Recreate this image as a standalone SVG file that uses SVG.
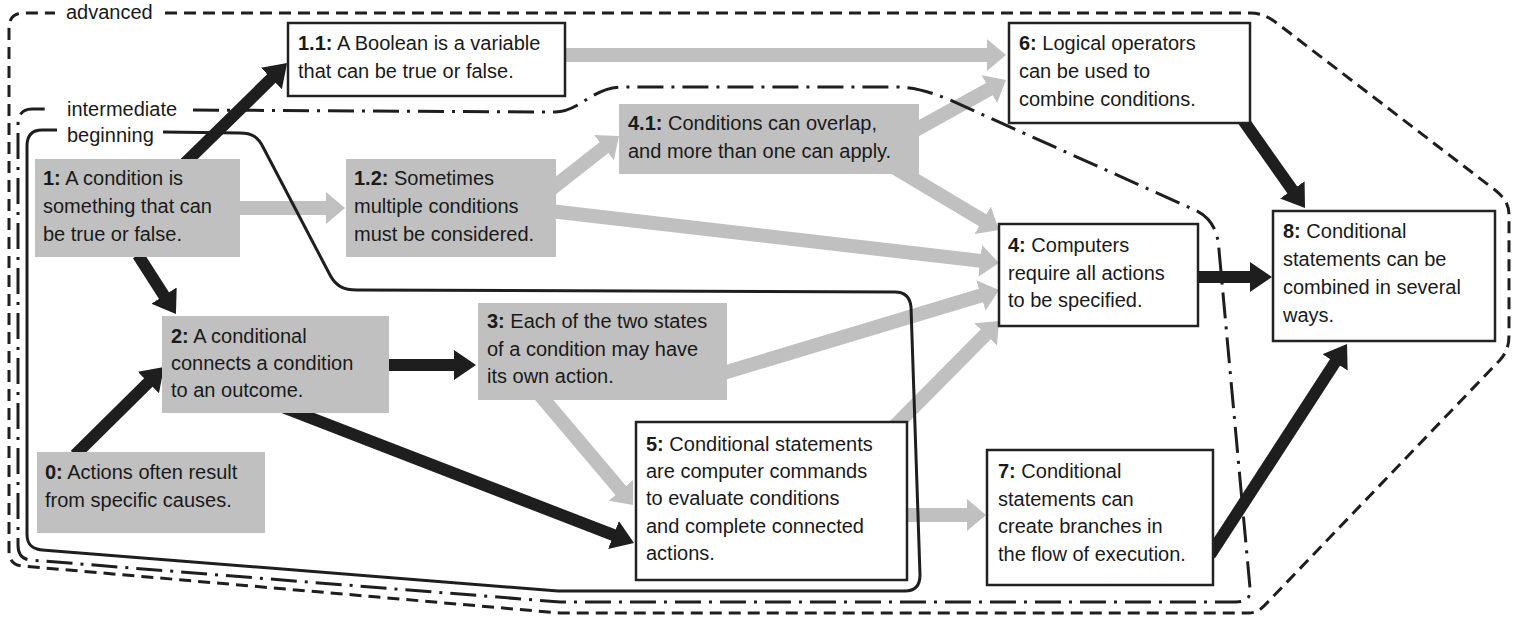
<svg xmlns="http://www.w3.org/2000/svg" width="1516" height="623" viewBox="0 0 1516 623">
<style>
text{font-family:"Liberation Sans",Arial,sans-serif;font-size:20px;fill:#1a1a1a}
.b{font-weight:bold}
.g{fill:#c0c0c0}
.w{fill:#fff;stroke:#222;stroke-width:2.5}
.dk{stroke:#1e1e1e;stroke-width:12;fill:none;marker-end:url(#ad)}
.lt{stroke:#c0c0c0;stroke-width:14;fill:none;marker-end:url(#al)}
.reg{fill:none;stroke:#1e1e1e;stroke-width:3}
.adv{stroke-dasharray:12 7}
.int{stroke-dasharray:26 8 3 8}
</style>
<defs>
<marker id="ad" markerUnits="userSpaceOnUse" markerWidth="23" markerHeight="30" refX="1" refY="15" orient="auto"><path d="M0,0 L22,15 L0,30 z" fill="#1e1e1e"/></marker>
<marker id="al" markerUnits="userSpaceOnUse" markerWidth="20" markerHeight="32" refX="1" refY="16" orient="auto"><path d="M0,0 L19,16 L0,32 z" fill="#c0c0c0"/></marker>
</defs>
<rect width="1516" height="623" fill="#fff"/>
<g id="connectors">
<line class="lt" x1="560" y1="55" x2="988" y2="55"/>
<line class="lt" x1="240" y1="208" x2="327" y2="208"/>
<line class="lt" x1="550" y1="190" x2="604.8" y2="147.1"/>
<line class="lt" x1="550" y1="211" x2="981.1" y2="260.9"/>
<line class="lt" x1="910" y1="133" x2="990.2" y2="88.7"/>
<line class="lt" x1="895" y1="168" x2="983.5" y2="220.8"/>
<line class="lt" x1="720" y1="374" x2="981.8" y2="295.2"/>
<line class="lt" x1="891" y1="430" x2="986.3" y2="333.8"/>
<line class="lt" x1="540" y1="395" x2="621.4" y2="491.2"/>
<line class="lt" x1="905" y1="515" x2="968" y2="515"/>
<line class="dk" x1="183" y1="165" x2="272.1" y2="77.8"/>
<line class="dk" x1="138" y1="255" x2="164.6" y2="296.4"/>
<line class="dk" x1="75" y1="455" x2="149.1" y2="381.8"/>
<line class="dk" x1="385" y1="365" x2="455" y2="365"/>
<line class="dk" x1="272" y1="403" x2="614.4" y2="535.4"/>
<line class="dk" x1="1243" y1="120" x2="1292.9" y2="190.8"/>
<line class="dk" x1="1195" y1="277" x2="1251" y2="277"/>
<line class="dk" x1="1210" y1="555" x2="1335.6" y2="361.6"/>
</g>
<g id="regions">
<path class="reg adv" d="M165,13 L1250,13 C1262,13 1270,18 1278,24 L1495,190 C1505,198 1509,205 1509,215 L1509,335 C1509,345 1507,352 1500,360 L1265,605 C1260,610 1256,613 1248,613 L560,613 L22,566 C13,565 9,560 9,550 L9,28 C9,18 14,13 24,13 L55,13"/>
<path class="reg int" d="M193,110 L555,112 C580,112 592,87 622,87 L895,87 C915,87 930,92 950,100 L1195,210 C1212,218 1218,232 1219,250 L1250,588 C1251,598 1246,602 1236,602 L560,602 L30,560 C21,559 18,553 18,545 L18,125 C18,115 22,109 32,109 L52,109"/>
<path class="reg" d="M163,132 L240,133 C252,133 258,137 263,147 L330,275 C336,286 343,290 357,290 L895,292 C905,292 910,297 911,307 L920,575 C920,586 915,591 905,591 L558,591 L42,550 C31,549 27,544 27,534 L27,146 C27,135 32,130 42,130 L57,130"/>
<text x="66" y="19">advanced</text>
<text x="67" y="116">intermediate</text>
<text x="67" y="142">beginning</text>
</g>
<g id="n1"><rect class="g" x="35" y="159" width="205" height="98"/><text x="43" y="185"><tspan class="b">1:</tspan> A condition is</text><text x="43" y="213">something that can</text><text x="43" y="241">be true or false.</text></g>
<g id="n1_1"><rect class="w" x="288" y="23" width="277" height="73"/><text x="298" y="50"><tspan class="b">1.1:</tspan> A Boolean is a variable</text><text x="298" y="78">that can be true or false.</text></g>
<g id="n1_2"><rect class="g" x="346" y="159" width="210" height="98"/><text x="354" y="185"><tspan class="b">1.2:</tspan> Sometimes</text><text x="354" y="213">multiple conditions</text><text x="354" y="241">must be considered.</text></g>
<g id="n4_1"><rect class="g" x="619" y="104" width="300" height="70"/><text x="628" y="130"><tspan class="b">4.1:</tspan> Conditions can overlap,</text><text x="628" y="158">and more than one can apply.</text></g>
<g id="n6"><rect class="w" x="1009" y="23" width="241" height="100"/><text x="1019" y="50"><tspan class="b">6:</tspan> Logical operators</text><text x="1019" y="78">can be used to</text><text x="1019" y="106">combine conditions.</text></g>
<g id="n4"><rect class="w" x="999" y="224" width="199" height="102"/><text x="1008" y="252"><tspan class="b">4:</tspan> Computers</text><text x="1008" y="280">require all actions</text><text x="1008" y="307">to be specified.</text></g>
<g id="n8"><rect class="w" x="1273" y="211" width="222" height="130"/><text x="1283" y="238"><tspan class="b">8:</tspan> Conditional</text><text x="1283" y="266">statements can be</text><text x="1283" y="294">combined in several</text><text x="1283" y="322">ways.</text></g>
<g id="n2"><rect class="g" x="162" y="316" width="227" height="97"/><text x="171" y="343"><tspan class="b">2:</tspan> A conditional</text><text x="171" y="370">connects a condition</text><text x="171" y="397">to an outcome.</text></g>
<g id="n3"><rect class="g" x="478" y="303" width="249" height="97"/><text x="487" y="328"><tspan class="b">3:</tspan> Each of the two states</text><text x="487" y="356">of a condition may have</text><text x="487" y="383">its own action.</text></g>
<g id="n0"><rect class="g" x="37" y="452" width="228" height="81"/><text x="45" y="479"><tspan class="b">0:</tspan> Actions often result</text><text x="45" y="507">from specific causes.</text></g>
<g id="n5"><rect class="w" x="636" y="422" width="271" height="158"/><text x="646" y="451"><tspan class="b">5:</tspan> Conditional statements</text><text x="646" y="478">are computer commands</text><text x="646" y="505">to evaluate conditions</text><text x="646" y="533">and complete connected</text><text x="646" y="560">actions.</text></g>
<g id="n7"><rect class="w" x="987" y="450" width="226" height="135"/><text x="998" y="478"><tspan class="b">7:</tspan> Conditional</text><text x="998" y="506">statements can</text><text x="998" y="533">create branches in</text><text x="998" y="561">the flow of execution.</text></g>
</svg>
